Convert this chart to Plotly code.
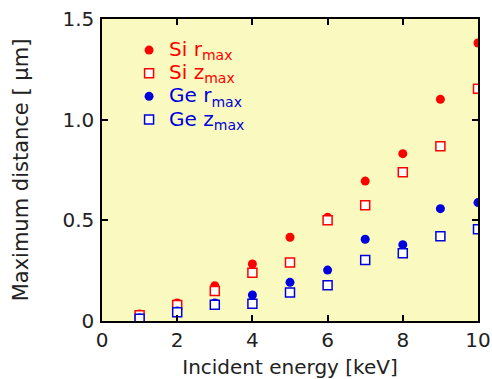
import plotly.graph_objects as go

energy = [1, 2, 3, 4, 5, 6, 7, 8, 9, 10]
si_rmax = [0.035, 0.09, 0.175, 0.283, 0.416, 0.515, 0.695, 0.831, 1.101, 1.381]
si_zmax = [0.028, 0.08, 0.149, 0.240, 0.290, 0.500, 0.575, 0.739, 0.868, 1.154]
ge_rmax = [0.015, 0.05, 0.09, 0.129, 0.192, 0.253, 0.406, 0.379, 0.558, 0.588]
ge_zmax = [0.011, 0.043, 0.081, 0.086, 0.141, 0.177, 0.303, 0.336, 0.421, 0.456]

x_ticks = [0, 2, 4, 6, 8, 10]
y_ticks = [0, 0.5, 1.0, 1.5]
y_ticktext = ["0", "0.5", "1.0", "1.5"]

RED = "#ff0000"
BLUE = "#0000dd"
FONT = "DejaVu Sans"
TXT = "#222222"


def legend_name(label, sub, color):
    return f'<span style="color:{color};font-size:20px">{label}<sub>{sub}</sub></span>'


fig = go.Figure()
fig.add_trace(go.Scatter(
    x=energy, y=si_rmax, mode="markers",
    name=legend_name("Si r", "max", RED),
    marker=dict(symbol="circle", size=9, color=RED, line=dict(width=0))))
fig.add_trace(go.Scatter(
    x=energy, y=si_zmax, mode="markers",
    name=legend_name("Si z", "max", RED),
    marker=dict(symbol="square", size=9, color="white", line=dict(width=1.5, color=RED))))
fig.add_trace(go.Scatter(
    x=energy, y=ge_rmax, mode="markers",
    name=legend_name("Ge r", "max", BLUE),
    marker=dict(symbol="circle", size=9, color=BLUE, line=dict(width=0))))
fig.add_trace(go.Scatter(
    x=energy, y=ge_zmax, mode="markers",
    name=legend_name("Ge z", "max", BLUE),
    marker=dict(symbol="square", size=9, color="white", line=dict(width=1.5, color=BLUE))))

axis_common = dict(
    showgrid=False, zeroline=False, showline=True, linecolor="black", linewidth=1.5,
    mirror="ticks", ticks="inside", ticklen=6, tickwidth=1.5, tickcolor="black",
    tickfont=dict(size=20, color=TXT, family=FONT), automargin=False,
)

fig.update_layout(
    width=492, height=379,
    margin=dict(l=102, r=14, t=19, b=58),
    paper_bgcolor="white",
    plot_bgcolor="#fafac0",
    font=dict(family=FONT, color=TXT),
    xaxis=dict(range=[0, 10], tickvals=x_ticks, ticklabelstandoff=0,
               title=dict(text="Incident energy [keV]", font=dict(size=20, family=FONT, color=TXT), standoff=11),
               **axis_common),
    yaxis=dict(range=[0, 1.5], tickvals=y_ticks, ticktext=y_ticktext, ticklabelstandoff=2,
               title=dict(text="Maximum distance [ μm]", font=dict(size=21, family=FONT, color=TXT), standoff=28),
               **axis_common),
    legend=dict(x=0.072, y=0.952, xanchor="left", yanchor="top",
                bgcolor="rgba(0,0,0,0)", font=dict(size=15.5, family=FONT),
                tracegroupgap=0, itemwidth=30),
    showlegend=True,
)

fig.write_html("out.html", config={"displayModeBar": False},
               post_script="document.body.style.margin='0';")
